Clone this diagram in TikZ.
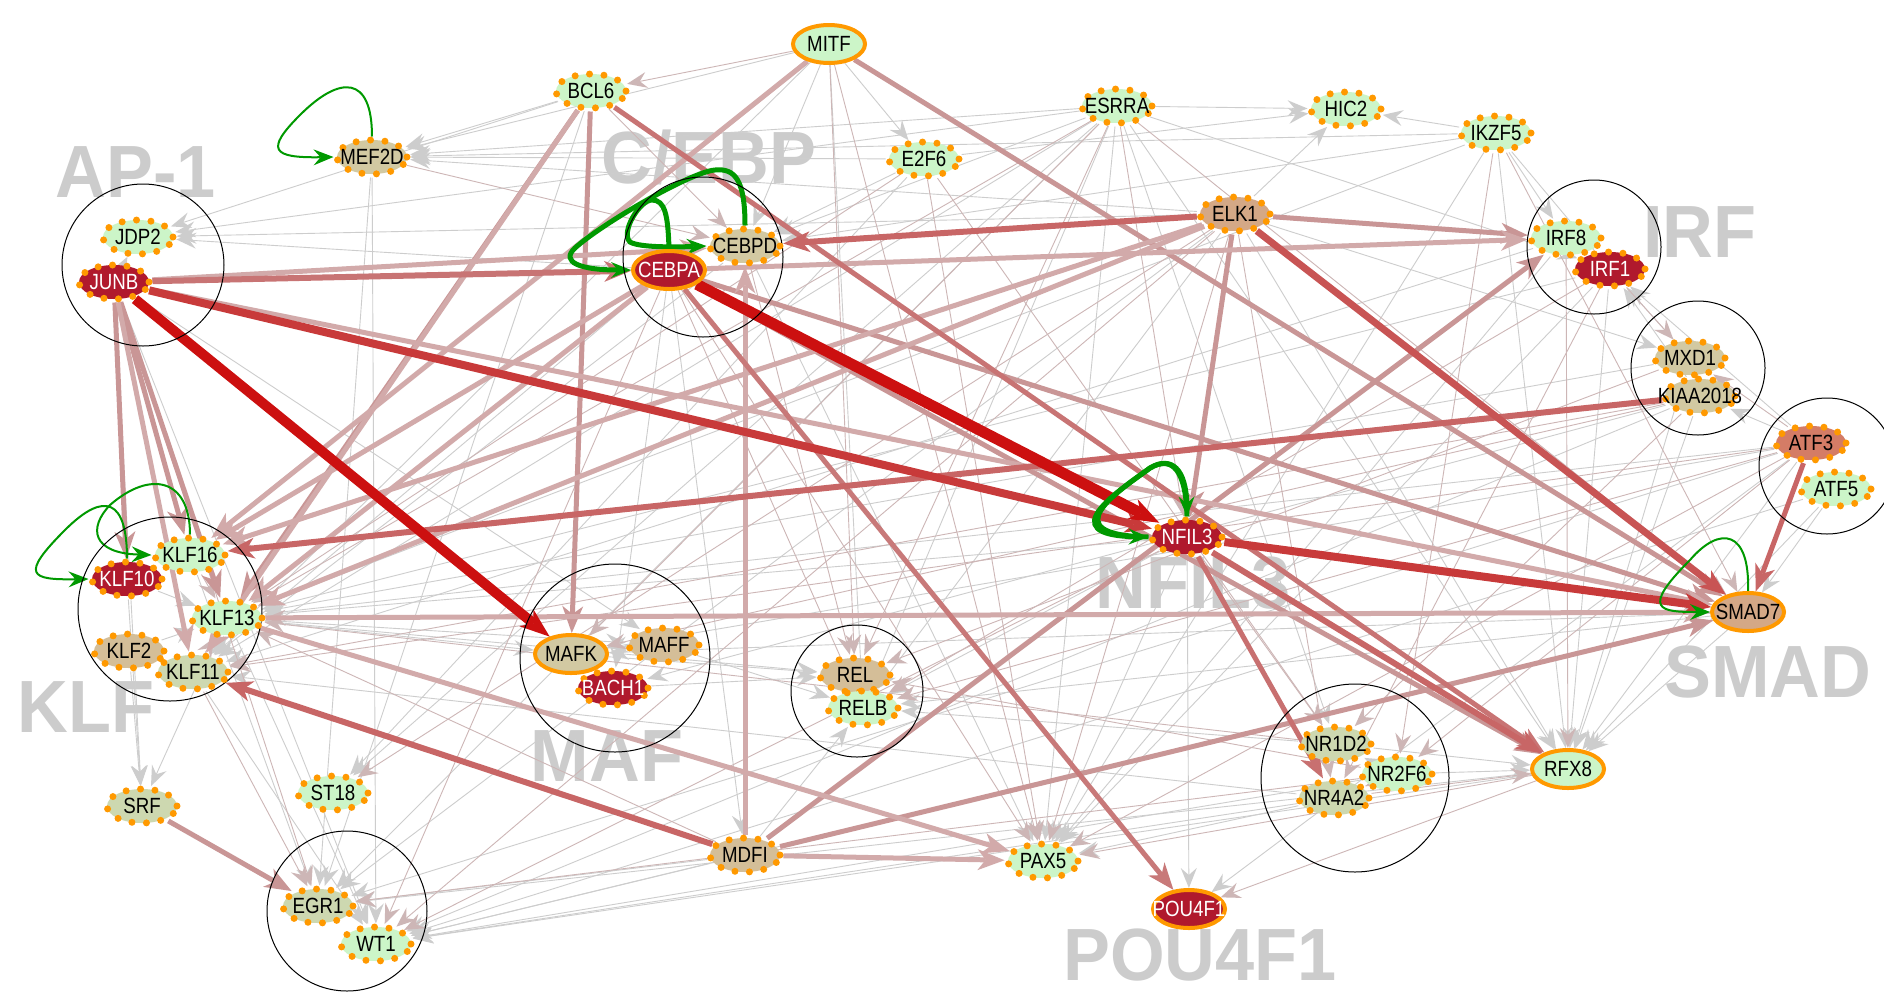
\documentclass[tikz,border=0pt]{standalone}
\usepackage{fontspec}
\setmainfont{Liberation Sans}
\newfontfamily\genefont[FakeStretch=0.85]{Liberation Sans}
\newfontfamily\groupfont[FakeStretch=0.95]{Liberation Sans}
\usetikzlibrary{arrows.meta,backgrounds,shapes.geometric}
\definecolor{genegreen}{HTML}{CCF5C8}
\definecolor{geneolive}{HTML}{CDD8B0}
\definecolor{genekhaki}{HTML}{D2C9A2}
\definecolor{genetan}{HTML}{D4BE98}
\definecolor{genebrown}{HTML}{D4A886}
\definecolor{genesalmon}{HTML}{D47C66}
\definecolor{genered}{HTML}{B0192D}
\definecolor{dotorange}{HTML}{FF9900}
\definecolor{loopgreen}{HTML}{009900}
\definecolor{edgegray}{HTML}{CDCDCD}
\definecolor{edgepink}{HTML}{CDB6B6}
\definecolor{edgeblush}{HTML}{D2AAAA}
\definecolor{edgerose}{HTML}{C99696}
\definecolor{edgered}{HTML}{C86666}
\definecolor{edgecrimson}{HTML}{C83A3A}
\definecolor{edgescarlet}{HTML}{CC1010}
\definecolor{labelgray}{HTML}{CCCCCC}
\newcommand{\genelabel}[1]{\makebox[0pt]{#1}}

\begin{document}
\begin{tikzpicture}[x=1pt,y=-1pt,
 gene/.style={ellipse,minimum width=70pt,minimum height=34pt,inner sep=0pt,font=\genefont\fontsize{22}{22}\selectfont},
 dotgene/.style={gene,draw=dotorange,line width=7pt,dash pattern=on 0pt off 14.5pt,line cap=round},
 ringgene/.style={gene,draw=dotorange,line width=4pt,minimum width=72pt,minimum height=38pt},
 hot/.style={fill=genered,text=white},
 grouplabel/.style={text=labelgray,inner sep=0pt,anchor=base,font=\groupfont\bfseries\fontsize{74}{74}\selectfont},
 groupring/.style={draw=black,line width=1pt},
 thinedge/.style={draw=edgegray,line width=0.9pt,-{Stealth[length=20pt,width=16pt,inset=7pt,line width=0pt]}},
 thinpink/.style={thinedge,draw=edgepink},
 medge/.style={draw=edgerose,line width=5pt,-{Stealth[length=27pt,width=21pt,inset=8pt,line width=0pt]}},
 greenedge/.style={draw=loopgreen,line width=2pt,-{Stealth[length=20pt,width=16pt,inset=7pt,line width=0pt]}}]
\useasboundingbox (0,0) rectangle (1884,994);

\node[ringgene,fill=genegreen] (mitf) at (829,44) {\genelabel{MITF}};
\node[dotgene,fill=genegreen] (bcl6) at (591,91) {\genelabel{BCL6}};
\node[dotgene,fill=genekhaki] (mef2d) at (372,157) {\genelabel{MEF2D}};
\node[dotgene,fill=genegreen] (esrra) at (1117,106) {\genelabel{ESRRA}};
\node[dotgene,fill=genegreen] (hic2) at (1346,109) {\genelabel{HIC2}};
\node[dotgene,fill=genegreen] (ikzf5) at (1496,133) {\genelabel{IKZF5}};
\node[dotgene,fill=genegreen] (e2f6) at (924,159) {\genelabel{E2F6}};
\node[dotgene,fill=genebrown] (elk1) at (1235,214) {\genelabel{ELK1}};
\node[dotgene,fill=genegreen] (jdp2) at (138,237) {\genelabel{JDP2}};
\node[dotgene,hot] (junb) at (114,282) {\genelabel{JUNB}};
\node[dotgene,fill=genekhaki] (cebpd) at (745,246) {\genelabel{CEBPD}};
\node[ringgene,hot] (cebpa) at (669,270) {\genelabel{CEBPA}};
\node[dotgene,fill=genegreen] (irf8) at (1566,238) {\genelabel{IRF8}};
\node[dotgene,hot] (irf1) at (1610,269) {\genelabel{IRF1}};
\node[dotgene,fill=genekhaki] (mxd1) at (1690,358) {\genelabel{MXD1}};
\node[dotgene,fill=genekhaki] (kiaa) at (1700,396) {\genelabel{KIAA2018}};
\node[dotgene,fill=genesalmon] (atf3) at (1811,443) {\genelabel{ATF3}};
\node[dotgene,fill=genegreen] (atf5) at (1836,489) {\genelabel{ATF5}};
\node[dotgene,hot] (nfil3) at (1187,537) {\genelabel{NFIL3}};
\node[dotgene,fill=genegreen] (klf16) at (190,555) {\genelabel{KLF16}};
\node[dotgene,hot] (klf10) at (127,579) {\genelabel{KLF10}};
\node[dotgene,fill=genegreen] (klf13) at (227,618) {\genelabel{KLF13}};
\node[dotgene,fill=genetan] (klf2) at (129,651) {\genelabel{KLF2}};
\node[dotgene,fill=geneolive] (klf11) at (193,672) {\genelabel{KLF11}};
\node[ringgene,fill=genebrown] (smad7) at (1748,612) {\genelabel{SMAD7}};
\node[ringgene,fill=genekhaki] (mafk) at (571,654) {\genelabel{MAFK}};
\node[dotgene,fill=genetan] (maff) at (664,645) {\genelabel{MAFF}};
\node[dotgene,hot] (bach1) at (613,688) {\genelabel{BACH1}};
\node[dotgene,fill=genetan] (rel) at (855,675) {\genelabel{REL}};
\node[dotgene,fill=genegreen] (relb) at (863,708) {\genelabel{RELB}};
\node[dotgene,fill=geneolive] (nr1d2) at (1336,744) {\genelabel{NR1D2}};
\node[dotgene,fill=genegreen] (nr2f6) at (1397,774) {\genelabel{NR2F6}};
\node[dotgene,fill=geneolive] (nr4a2) at (1334,798) {\genelabel{NR4A2}};
\node[ringgene,fill=genegreen] (rfx8) at (1568,769) {\genelabel{RFX8}};
\node[dotgene,fill=geneolive] (srf) at (142,806) {\genelabel{SRF}};
\node[dotgene,fill=genegreen] (st18) at (333,793) {\genelabel{ST18}};
\node[dotgene,fill=genetan] (mdfi) at (745,855) {\genelabel{MDFI}};
\node[dotgene,fill=genegreen] (pax5) at (1043,861) {\genelabel{PAX5}};
\node[ringgene,hot] (pou4f1) at (1189,909) {\genelabel{POU4F1}};
\node[dotgene,fill=geneolive] (egr1) at (318,906) {\genelabel{EGR1}};
\node[dotgene,fill=genegreen] (wt1) at (376,944) {\genelabel{WT1}};

\begin{scope}[on background layer]
\fill[white] (0,0) rectangle (1884,994);
\node[grouplabel] (aplabel) at (136,197) {AP-1};
\node[grouplabel] (cebplabel) at (709,183) {C/EBP};
\node[grouplabel] (irflabel) at (1700,257) {IRF};
\node[grouplabel] (klflabel) at (86,732) {KLF};
\node[grouplabel] (maflabel) at (607,781) {MAF};
\node[grouplabel] (nfillabel) at (1193,608) {NFIL3};
\node[grouplabel,anchor=base west] (smadlabel) at (1664,697) {SMAD};
\node[grouplabel] (poulabel) at (1200,980) {POU4F1};

\foreach \a/\b in {esrra/mef2d,esrra/hic2,esrra/jdp2,esrra/klf11,esrra/pax5,esrra/relb,esrra/rfx8,esrra/egr1,esrra/cebpd,esrra/irf1,esrra/st18,esrra/nr1d2,
  ikzf5/hic2,ikzf5/irf8,ikzf5/mef2d,ikzf5/cebpd,ikzf5/rfx8,ikzf5/pax5,ikzf5/klf13,ikzf5/irf1,
  mitf/mef2d,mitf/relb,mitf/klf11,mitf/cebpd,mitf/e2f6,e2f6/mef2d,e2f6/hic2,e2f6/cebpd,e2f6/st18,
  elk1/hic2,elk1/mef2d,elk1/rfx8,elk1/egr1,elk1/relb,elk1/jdp2,elk1/mxd1,
  atf3/kiaa,atf3/irf1,atf3/klf13,atf3/rfx8,atf3/egr1,atf3/mafk,atf3/pou4f1,
  kiaa/irf1,kiaa/rfx8,kiaa/wt1,kiaa/bach1,mxd1/irf1,mxd1/rfx8,mxd1/klf13,
  irf1/rfx8,irf1/pax5,irf1/klf13,irf8/pax5,irf8/klf11,nr2f6/wt1,nr2f6/rfx8,nr2f6/nr1d2,
  nr4a2/wt1,nr4a2/klf11,nr4a2/pax5,nr1d2/relb,nr1d2/rfx8,rfx8/wt1,rfx8/egr1,
  nfil3/pou4f1,nfil3/pax5,nfil3/relb,nfil3/klf13,smad7/rfx8,smad7/wt1,smad7/mafk,smad7/relb,
  mdfi/wt1,mdfi/egr1,mdfi/relb,cebpa/mdfi,cebpa/bach1,cebpa/klf11,cebpa/jdp2,cebpd/pax5,cebpd/klf11,
  bcl6/mef2d,bcl6/jdp2,bcl6/egr1,mef2d/wt1,mef2d/egr1,junb/jdp2,junb/srf,junb/wt1,junb/maff,
  klf10/srf,klf2/srf,klf13/srf,klf16/egr1,klf13/wt1,klf13/mafk,klf13/maff,klf13/rel,klf11/wt1,
  klf10/klf13,klf2/klf13,atf5/wt1,atf5/rfx8,atf5/smad7,maff/relb,mafk/rel,bach1/rel}
  \draw[thinedge] (\a) -- (\b);
\foreach \a/\b in {esrra/klf13,esrra/nfil3,esrra/smad7,esrra/rel,esrra/mafk,ikzf5/smad7,ikzf5/nr2f6,
  mitf/pax5,mitf/rel,mitf/bcl6,e2f6/pax5,e2f6/klf13,e2f6/nr1d2,elk1/pax5,elk1/wt1,elk1/nr4a2,elk1/st18,
  atf3/relb,atf3/nr2f6,atf3/mxd1,atf3/pax5,atf3/klf11,kiaa/klf11,kiaa/nr1d2,kiaa/mafk,mxd1/rel,
  irf1/mxd1,irf1/relb,irf1/nr4a2,irf8/rfx8,nr2f6/egr1,nr2f6/rel,nr2f6/nr4a2,nr4a2/rfx8,nr1d2/klf13,
  rfx8/pax5,rfx8/pou4f1,nfil3/wt1,nfil3/nr1d2,smad7/klf13,mdfi/klf13,cebpa/relb,cebpa/pax5,cebpa/wt1,
  cebpd/rel,bcl6/cebpd,mef2d/cebpd,junb/egr1,junb/bach1,klf11/egr1,klf16/klf13,klf11/klf13}
  \draw[thinpink] (\a) -- (\b);

\foreach \a/\b in {junb/klf10,junb/klf16,junb/klf13,bcl6/klf13,bcl6/mafk,mitf/smad7,cebpa/smad7,
  cebpa/rfx8,elk1/nfil3,elk1/irf8,mdfi/smad7,mdfi/irf8,srf/egr1}
  \draw[medge] (\a) -- (\b);
\foreach \a/\b in {junb/klf11,junb/cebpd,junb/smad7,bcl6/klf11,mitf/klf16,cebpa/klf13,cebpa/klf16,
  cebpa/irf8,elk1/klf13,elk1/klf16,mdfi/pax5,mdfi/cebpd,klf13/smad7,klf13/pax5}
  \draw[medge,draw=edgeblush] (\a) -- (\b);
\draw[medge,draw=edgered!70!edgerose] (bcl6) -- (rfx8);
\draw[medge,draw=edgered!60!edgerose] (cebpa) -- (pou4f1);
\draw[medge,draw=edgered!70!edgerose,line width=6pt] (junb) -- (cebpa);
\draw[medge,draw=edgered,line width=6pt] (elk1) -- (cebpd);
\draw[medge,draw=edgered,line width=6pt] (kiaa) -- (klf16);
\draw[medge,draw=edgered,line width=6pt] (mdfi) -- (klf11);
\draw[medge,draw=edgered] (atf3) -- (smad7);
\draw[medge,draw=edgered,line width=6pt] (nfil3) -- (rfx8);
\draw[medge,draw=edgered!80!edgerose] (nfil3) -- (nr4a2);
\draw[medge,draw=edgered!60!edgecrimson,line width=7pt] (elk1) -- (smad7);
\draw[medge,draw=edgecrimson,line width=8pt] (junb) -- (nfil3);
\draw[medge,draw=edgecrimson,line width=8pt] (nfil3) -- (smad7);
\draw[medge,draw=edgescarlet,line width=10pt,-{Stealth[length=30pt,width=22pt,inset=9pt,line width=0pt]}] (junb) -- (mafk);
\draw[medge,draw=edgescarlet,line width=11pt,-{Stealth[length=30pt,width=22pt,inset=9pt,line width=0pt]}] (cebpa) -- (nfil3);

\draw[greenedge] (mef2d.north) .. controls (372,75) and (340,75) .. (300,115) .. controls (265,150) and (272,158) .. (mef2d.west);
\draw[greenedge] (klf16.north) .. controls (190,478) and (150,470) .. (110,505) .. controls (88,528) and (92,553) .. (klf16.west);
\draw[greenedge] (klf10.north) .. controls (127,500) and (105,490) .. (65,530) .. controls (20,575) and (30,580) .. (klf10.west);
\draw[greenedge] (smad7.north) .. controls (1750,530) and (1720,525) .. (1690,560) .. controls (1640,610) and (1660,612) .. (smad7.west);
\draw[greenedge,line width=5pt] (cebpd.north) .. controls (745,180) and (735,168) .. (715,170) .. controls (690,172) and (600,225) .. (575,248) .. controls (560,262) and (580,270) .. (cebpa.west);
\draw[greenedge,line width=5pt] (cebpa.north) .. controls (668,215) and (665,200) .. (652,200) .. controls (640,200) and (620,232) .. (630,242) .. controls (640,248) and (680,247) .. (cebpd.west);
\draw[greenedge,line width=5pt] (nfil3.north) .. controls (1186,470) and (1172,455) .. (1150,468) .. controls (1120,490) and (1050,535) .. (nfil3.west);
\draw[greenedge,line width=5pt] (nfil3.west) .. controls (1050,535) and (1120,490) .. (1150,468) .. controls (1172,455) and (1186,470) .. (nfil3.north);

\draw[groupring] (143,265) circle[radius=81pt];
\draw[groupring] (703,257) circle[radius=80pt];
\draw[groupring] (1594,247) circle[radius=67pt];
\draw[groupring] (1698,368) circle[radius=67pt];
\draw[groupring] (1827,466) circle[radius=68pt];
\draw[groupring] (170,609) circle[radius=92pt];
\draw[groupring] (615,658) ellipse[x radius=95pt,y radius=94pt];
\draw[groupring] (857,691) circle[radius=66pt];
\draw[groupring] (1355,778) circle[radius=94pt];
\draw[groupring] (347,911) circle[radius=80pt];
\end{scope}
\end{tikzpicture}
\end{document}
